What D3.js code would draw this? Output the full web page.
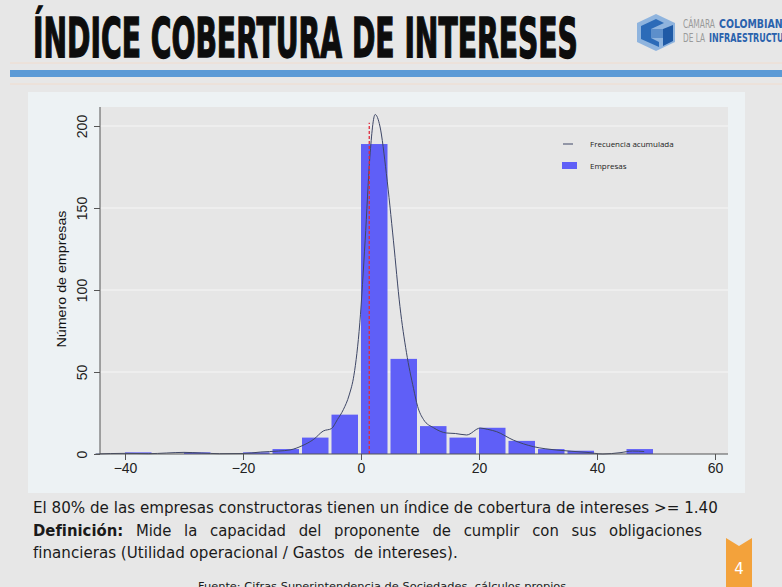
<!DOCTYPE html>
<html lang="es">
<head>
    <meta charset="UTF-8">
    <title>Indice cobertura de intereses</title>
    <script src="https://cdn.jsdelivr.net/npm/d3@7"></script>
    <style>
        body {
            margin: 0;
            background: #e7e7e7;
        }
        svg {
            display: block;
        }
        .tick text {
            font-family: "Liberation Sans", Arial, sans-serif;
            font-size: 14px;
            fill: #222;
        }
        .body-text {
            font-family: "DejaVu Sans", Tahoma, sans-serif;
            fill: #1a1a1a;
            white-space: pre;
        }
    </style>
</head>
<body>
    <script>
        // histogram bins (left edge, width 5) and company counts
        const binStart = [-40, -30, -20, -15, -10, -5, 0, 5, 10, 15, 20, 25, 30, 35, 45];
        const counts = [1, 1, 1, 3, 10, 24, 189, 58, 17, 10, 16, 8, 3, 2, 3];
        const binWidth = 5;

        // smoothed frequency curve
        const curveX = [-45, -40, -36, -33, -30, -27, -24, -20, -17, -14, -12, -10, -8, -6.4, -5, -4, -3, -2, -1.2, -0.2, 0.7, 1.5, 2.4, 3.2, 4.3, 5.5, 6.6, 7.7, 8.9, 9.6, 10.6, 12.3, 14.5, 16, 17.9, 20.2, 21.5, 23, 25.8, 29.2, 33.2, 38.3, 41, 43.9, 46, 48];
        const curveY = [0, 0.4, 0.2, 0.6, 1, 0.6, 0.2, 0.3, 1.2, 1.8, 2.5, 5, 9, 14, 15.5, 21, 27, 36, 48, 80, 130, 181, 207, 200, 171, 130, 90, 62, 40, 29, 21, 16, 12.8, 12.5, 11.6, 15.8, 15, 13.6, 8.5, 4.5, 2.4, 1, 0, 0.8, 1.8, 1.5];

        const threshold = 1.4;
        const xTicks = [-40, -20, 0, 20, 40, 60];
        const yTicks = [0, 50, 100, 150, 200];
        const legendLabels = ["Frecuencia acumulada", "Empresas"];

        const width = 782;
        const height = 587;

        let svg = d3.select("body").append("svg")
            .attr("width", width)
            .attr("height", height);

        // squeeze a text horizontally so it spans w pixels from (x, y)
        function fitText(sel, x, y, w) {
            sel.each(function () {
                let len = this.getComputedTextLength();
                d3.select(this).attr("transform", `translate(${x},${y}) scale(${w / len},1)`);
            });
        }

        // slide background
        svg.append("rect")
            .attr("width", width)
            .attr("height", height)
            .attr("fill", "#e7e7e7");

        // title
        let title = svg.append("text")
            .style("font-family", "'DejaVu Sans Condensed', 'Liberation Sans Narrow', sans-serif")
            .style("font-weight", "bold")
            .style("font-size", "55px")
            .style("fill", "#0d0d0d")
            .style("stroke", "#0d0d0d")
            .style("stroke-width", 1.4)
            .text("ÍNDICE COBERTURA DE INTERESES");
        fitText(title, 33, 57, 545);

        // logo
        let logo = svg.append("g").attr("transform", "translate(637,14)");
        logo.append("polygon")
            .attr("points", "0,9 19,0 38,9 38,28 19,37 0,28")
            .attr("fill", "#8fb4de");
        logo.append("polygon")
            .attr("points", "4,12 19,5 27,9 14,15 14,24 22,28 22,33 4,25")
            .attr("fill", "#2c6bb8");
        logo.append("polygon")
            .attr("points", "26,15 36,11 36,27 26,32")
            .attr("fill", "#1f5aa6");
        logo.append("polygon")
            .attr("points", "14,15 26,15 26,24 14,24")
            .attr("fill", "#5d8fcb");

        // logo words, each placed on its own
        const logoWords = [
            { t: "CÁMARA", x: 683, y: 28, w: 32, c: "#9a9a9a", b: "normal" },
            { t: "COLOMBIANA", x: 719, y: 28, w: 71, c: "#2a62ad", b: "bold" },
            { t: "DE LA", x: 683, y: 42, w: 22, c: "#9a9a9a", b: "normal" },
            { t: "INFRAESTRUCTURA", x: 709, y: 42, w: 87, c: "#2a62ad", b: "bold" }
        ];
        svg.append("g")
            .selectAll("text")
            .data(logoWords)
            .enter()
            .append("text")
            .style("font-family", "'DejaVu Sans Condensed', 'Liberation Sans Narrow', sans-serif")
            .style("font-size", "11.5px")
            .style("font-weight", d => d.b)
            .style("fill", d => d.c)
            .text(d => d.t)
            .each(function (d) { fitText(d3.select(this), d.x, d.y, d.w); });

        // blue stripe and faint lines
        svg.append("line").attr("x1", 10).attr("x2", width).attr("y1", 63).attr("y2", 63)
            .attr("stroke", "#f1dccd").attr("stroke-width", 1);
        svg.append("rect")
            .attr("x", 10).attr("y", 70)
            .attr("width", width - 10).attr("height", 7)
            .attr("fill", "#5b9ad6");
        svg.append("line").attr("x1", 10).attr("x2", width).attr("y1", 84).attr("y2", 84)
            .attr("stroke", "#f1dccd").attr("stroke-width", 1);

        // chart panel
        svg.append("rect")
            .attr("x", 28).attr("y", 92)
            .attr("width", 717).attr("height", 401)
            .attr("fill", "#edf2f4");

        const plot = { left: 100, right: 728, top: 107, bottom: 454 };

        svg.append("rect")
            .attr("x", plot.left).attr("y", plot.top)
            .attr("width", plot.right - plot.left)
            .attr("height", plot.bottom - plot.top)
            .attr("fill", "#e6e6e6");

        let x = d3.scaleLinear().domain([-40, 60]).range([125, 715]);
        let y = d3.scaleLinear().domain([0, 200]).range([454, 126]);

        // gridlines
        svg.append("g")
            .selectAll("line")
            .data(yTicks.filter(d => d > 0))
            .enter()
            .append("line")
            .attr("x1", plot.left)
            .attr("x2", plot.right)
            .attr("y1", d => y(d))
            .attr("y2", d => y(d))
            .attr("stroke", "#f6f6f6")
            .attr("stroke-width", 1);

        // bars
        svg.append("g")
            .selectAll("rect")
            .data(binStart)
            .enter()
            .append("rect")
            .attr("x", d => x(d))
            .attr("y", (d, i) => y(counts[i]))
            .attr("width", d => x(d + binWidth) - x(d) - 3)
            .attr("height", (d, i) => y(0) - y(counts[i]))
            .attr("fill", "#5f5ff7");

        // frequency curve
        let line = d3.line()
            .x(d => x(d[0]))
            .y(d => y(d[1]))
            .curve(d3.curveMonotoneX);
        svg.append("path")
            .datum(curveX.map((d, i) => [d, curveY[i]]))
            .attr("d", line)
            .attr("fill", "none")
            .attr("stroke", "#3e4766")
            .attr("stroke-width", 1);

        // threshold marker
        svg.append("line")
            .attr("x1", x(threshold)).attr("x2", x(threshold))
            .attr("y1", y(0)).attr("y2", y(202))
            .attr("stroke", "#e02a3c")
            .attr("stroke-width", 1.3)
            .attr("stroke-dasharray", "3,2");

        // axes
        let xAxis = svg.append("g")
            .attr("transform", `translate(0,${plot.bottom})`)
            .call(d3.axisBottom(x).tickValues(xTicks).tickSize(6).tickPadding(3));
        xAxis.select(".domain").attr("d", `M${plot.left},0H${plot.right}`);
        xAxis.selectAll("line, path").attr("stroke", "#555");

        let yAxis = svg.append("g")
            .attr("transform", `translate(${plot.left},0)`)
            .call(d3.axisLeft(y).tickValues(yTicks).tickSize(6));
        yAxis.select(".domain").attr("d", `M0,${plot.top}V${plot.bottom}`);
        yAxis.selectAll("line, path").attr("stroke", "#555");
        yAxis.selectAll(".tick text")
            .attr("x", 0)
            .attr("dy", 0)
            .attr("text-anchor", "middle")
            .attr("transform", "translate(-13,0) rotate(-90)");

        // y axis title
        svg.append("text")
            .attr("transform", "translate(66,279) rotate(-90)")
            .attr("text-anchor", "middle")
            .attr("textLength", 137)
            .attr("lengthAdjust", "spacingAndGlyphs")
            .style("font-family", "'Liberation Sans', Arial, sans-serif")
            .style("font-size", "13px")
            .style("fill", "#111")
            .text("Número de empresas");

        // legend
        let legend = svg.append("g")
            .style("font-family", "'Open Sans', sans-serif")
            .style("font-size", "8px")
            .style("fill", "#222");
        legend.append("line")
            .attr("x1", 563).attr("x2", 573)
            .attr("y1", 144).attr("y2", 144)
            .attr("stroke", "#3e4766");
        legend.append("rect")
            .attr("x", 562).attr("y", 162)
            .attr("width", 15).attr("height", 7)
            .attr("fill", "#5f5ff7");
        legend.selectAll("text")
            .data(legendLabels)
            .enter()
            .append("text")
            .attr("x", 590)
            .attr("y", (d, i) => 147 + i * 22)
            .text(d => d);

        // notes below the chart
        let note1 = svg.append("text")
            .attr("class", "body-text")
            .style("font-size", "16.5px")
            .text("El 80% de las empresas constructoras tienen un índice de cobertura de intereses >= 1.40");
        fitText(note1, 33, 513, 685);

        // justified definition line
        const defWords = ["Definición:", "Mide", "la", "capacidad", "del", "proponente", "de", "cumplir", "con", "sus", "obligaciones"];
        let defLine = svg.append("g").attr("class", "body-text").style("font-size", "16.5px");
        let wordNodes = defLine.selectAll("text")
            .data(defWords)
            .enter()
            .append("text")
            .style("font-weight", (d, i) => i === 0 ? "bold" : "normal")
            .text(d => d);
        let widths = [];
        wordNodes.each(function () { widths.push(this.getComputedTextLength() * 0.9); });
        let gap = (702 - 33 - d3.sum(widths)) / (defWords.length - 1);
        let pos = 33;
        wordNodes.each(function (d, i) {
            fitText(d3.select(this), pos, 536, widths[i]);
            pos += widths[i] + gap;
        });

        let note3 = svg.append("text")
            .attr("class", "body-text")
            .style("font-size", "16.5px")
            .text("financieras (Utilidad operacional / Gastos  de intereses).");
        fitText(note3, 33, 558, 425);

        // source
        let source = svg.append("text")
            .attr("class", "body-text")
            .style("font-size", "11px")
            .text("Fuente: Cifras Superintendencia de Sociedades, cálculos propios");
        fitText(source, 198, 590, 369);

        // page number tab
        svg.append("polygon")
            .attr("points", "726,538 739,546 752,538 752,587 726,587")
            .attr("fill", "#f3a23b");
        svg.append("text")
            .attr("x", 739).attr("y", 574)
            .attr("text-anchor", "middle")
            .style("font-family", "'DejaVu Sans', sans-serif")
            .style("font-size", "15px")
            .style("fill", "#fff")
            .text("4");
    </script>
</body>
</html>
